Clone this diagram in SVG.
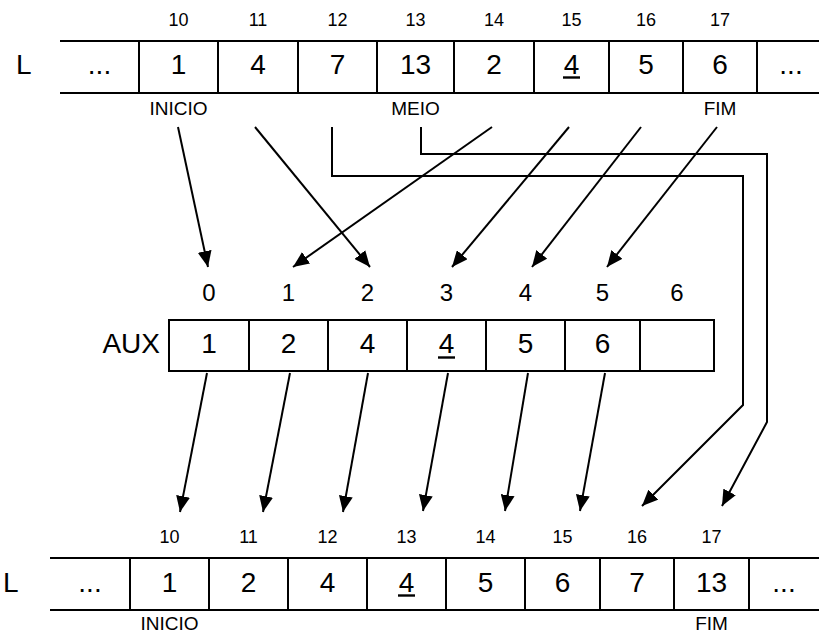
<svg xmlns="http://www.w3.org/2000/svg" width="819" height="637" viewBox="0 0 819 637">
<style>
text{font-family:"Liberation Sans",Arial,sans-serif;fill:#000}
.v{font-size:28px;text-anchor:middle}
.i{font-size:18px;text-anchor:middle}
.ai{font-size:24px;text-anchor:middle}
.lb{font-size:19px;text-anchor:middle}
.big{font-size:28px}
.ln{stroke:#000;stroke-width:2;fill:none}
.u{stroke:#000;stroke-width:2.4}
.ar{stroke:#000;stroke-width:2;fill:none;marker-end:url(#ah)}
</style>
<defs>
<marker id="ah" viewBox="0 0 16 14" refX="16" refY="7" markerWidth="16" markerHeight="14" markerUnits="userSpaceOnUse" orient="auto">
<path d="M0,0 L16,7 L0,14 Z" fill="#000"/>
</marker>
</defs>

<g id="top-array">
<text class="big" x="16" y="74">L</text>
<path class="ln" d="M60,41 H819 M60,93 H819 M139,41 V93 M218,41 V93 M298,41 V93 M377,41 V93 M454,41 V93 M534,41 V93 M609,41 V93 M683,41 V93 M757,41 V93"/>
<g id="top-ellipsis-left"><text class="v" x="99.5" y="74">...</text></g>
<g id="top-10"><text class="i" x="178.5" y="26">10</text><text class="v" x="178.5" y="74">1</text><text class="lb" x="178.5" y="115">INICIO</text></g>
<g id="top-11"><text class="i" x="258" y="26">11</text><text class="v" x="258" y="74">4</text></g>
<g id="top-12"><text class="i" x="337.5" y="26">12</text><text class="v" x="337.5" y="74">7</text></g>
<g id="top-13"><text class="i" x="415.5" y="26">13</text><text class="v" x="415.5" y="74">13</text><text class="lb" x="415.5" y="115">MEIO</text></g>
<g id="top-14"><text class="i" x="494" y="26">14</text><text class="v" x="494" y="74">2</text></g>
<g id="top-15"><text class="i" x="571.5" y="26">15</text><text class="v" x="571.5" y="74">4</text><line class="u" x1="563" y1="77.5" x2="580" y2="77.5"/></g>
<g id="top-16"><text class="i" x="646" y="26">16</text><text class="v" x="646" y="74">5</text></g>
<g id="top-17"><text class="i" x="720" y="26">17</text><text class="v" x="720" y="74">6</text><text class="lb" x="720" y="115">FIM</text></g>
<g id="top-ellipsis-right"><text class="v" x="791" y="74">...</text></g>
</g>

<g id="aux-array">
<text class="big" x="160" y="353" text-anchor="end">AUX</text>
<path class="ln" d="M169,320 H714 V371 H169 Z M249,320 V371 M328,320 V371 M407,320 V371 M486,320 V371 M565,320 V371 M640,320 V371"/>
<g id="aux-0"><text class="ai" x="209" y="301">0</text><text class="v" x="209" y="353">1</text></g>
<g id="aux-1"><text class="ai" x="288.5" y="301">1</text><text class="v" x="288.5" y="353">2</text></g>
<g id="aux-2"><text class="ai" x="367.5" y="301">2</text><text class="v" x="367.5" y="353">4</text></g>
<g id="aux-3"><text class="ai" x="446.5" y="301">3</text><text class="v" x="446.5" y="353">4</text><line class="u" x1="438" y1="357.5" x2="455" y2="357.5"/></g>
<g id="aux-4"><text class="ai" x="525.5" y="301">4</text><text class="v" x="525.5" y="353">5</text></g>
<g id="aux-5"><text class="ai" x="602.5" y="301">5</text><text class="v" x="602.5" y="353">6</text></g>
<g id="aux-6"><text class="ai" x="677" y="301">6</text></g>
</g>

<g id="bottom-array">
<text class="big" x="3" y="592">L</text>
<path class="ln" d="M50,558 H819 M50,610 H819 M130,558 V610 M209,558 V610 M288,558 V610 M367,558 V610 M446,558 V610 M525,558 V610 M600,558 V610 M674,558 V610 M749,558 V610"/>
<g id="bot-ellipsis-left"><text class="v" x="90" y="592">...</text></g>
<g id="bot-10"><text class="i" x="169.5" y="543">10</text><text class="v" x="169.5" y="592">1</text><text class="lb" x="169.5" y="630">INICIO</text></g>
<g id="bot-11"><text class="i" x="248.5" y="543">11</text><text class="v" x="248.5" y="592">2</text></g>
<g id="bot-12"><text class="i" x="327.5" y="543">12</text><text class="v" x="327.5" y="592">4</text></g>
<g id="bot-13"><text class="i" x="406.5" y="543">13</text><text class="v" x="406.5" y="592">4</text><line class="u" x1="398" y1="595.5" x2="415" y2="595.5"/></g>
<g id="bot-14"><text class="i" x="485.5" y="543">14</text><text class="v" x="485.5" y="592">5</text></g>
<g id="bot-15"><text class="i" x="562.5" y="543">15</text><text class="v" x="562.5" y="592">6</text></g>
<g id="bot-16"><text class="i" x="637" y="543">16</text><text class="v" x="637" y="592">7</text></g>
<g id="bot-17"><text class="i" x="711.5" y="543">17</text><text class="v" x="711.5" y="592">13</text><text class="lb" x="711.5" y="630">FIM</text></g>
<g id="bot-ellipsis-right"><text class="v" x="784" y="592">...</text></g>
</g>

<g id="connectors">
<line class="ar" x1="178" y1="127" x2="208" y2="267"/>
<line class="ar" x1="255" y1="127" x2="370" y2="267"/>
<line class="ar" x1="492" y1="127" x2="293" y2="267"/>
<line class="ar" x1="569" y1="127" x2="452" y2="267"/>
<line class="ar" x1="641" y1="127" x2="532" y2="267"/>
<line class="ar" x1="717" y1="127" x2="607" y2="267"/>
<path class="ar" d="M332,127 V176 H743 V405 L642,506"/>
<path class="ar" d="M421,127 V154 H767 V422 L722,506"/>
<line class="ar" x1="207" y1="373" x2="180" y2="512"/>
<line class="ar" x1="290" y1="373" x2="263" y2="512"/>
<line class="ar" x1="368" y1="373" x2="343" y2="512"/>
<line class="ar" x1="448" y1="373" x2="423" y2="511"/>
<line class="ar" x1="528" y1="373" x2="505" y2="511"/>
<line class="ar" x1="605" y1="373" x2="580" y2="511"/>
</g>
</svg>
